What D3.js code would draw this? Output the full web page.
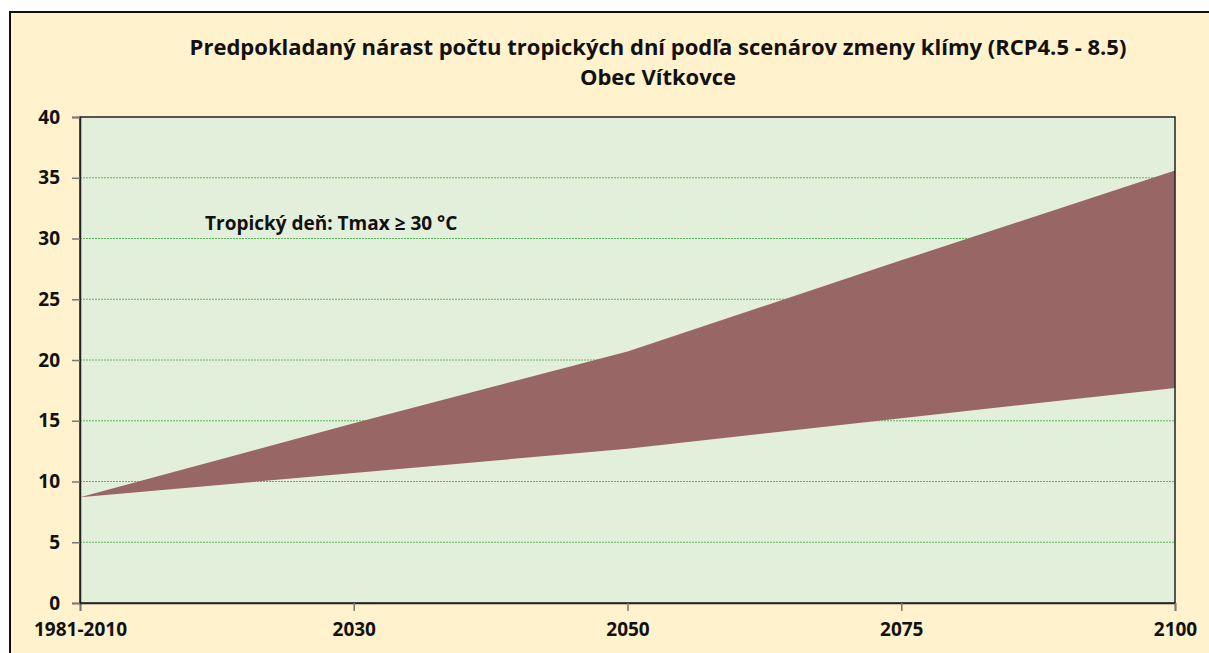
<!DOCTYPE html>
<html lang="sk">
<head>
<meta charset="UTF-8">
<title>Tropické dni</title>
<script src="https://d3js.org/d3.v7.min.js"></script>
<style>
  body { margin: 0; background: #fff; }
  svg { display: block; font-family: "Open Sans", "Noto Sans", sans-serif; }
</style>
</head>
<body>
<div id="chart"></div>
<script>
// Obdobia (kategórie osi X)
const obdobia = ["1981-2010", "2030", "2050", "2075", "2100"];
// Dolná a horná hranica scenárov (RCP4.5 - RCP8.5)
const dolna = [8.7, 10.7, 12.7, 15.2, 17.7];
const horna = [8.7, 14.8, 20.7, 28.2, 35.6];
const yTicks = [0, 5, 10, 15, 20, 25, 30, 35, 40];

const W = 1209, H = 653;
const margin = { top: 117, right: 34, bottom: 50, left: 80 };
const width = W - margin.left - margin.right;
const height = H - margin.top - margin.bottom;
const font = '"Open Sans", "Noto Sans", sans-serif';

const svg = d3.select("#chart")
  .append("svg")
  .attr("width", W)
  .attr("height", H);

// pozadie grafu
svg.append("rect")
  .attr("x", 10).attr("y", 12)
  .attr("width", W).attr("height", H)
  .attr("fill", "#fff2cc")
  .attr("stroke", "#111")
  .attr("stroke-width", 2);

const g = svg.append("g")
  .attr("transform", `translate(${margin.left}, ${margin.top})`);

const x = d3.scalePoint().domain(obdobia).range([0, width]);
const y = d3.scaleLinear().domain([0, 40]).range([height, 0]);

g.append("rect")
  .attr("width", width).attr("height", height)
  .attr("fill", "#e2efda");

// mriežka
g.selectAll(".grid")
  .data(yTicks.filter(d => d > 0 && d < 40))
  .enter().append("line")
  .attr("class", "grid")
  .attr("x1", 0).attr("x2", width)
  .attr("y1", d => y(d)).attr("y2", d => y(d))
  .attr("stroke", "#5cb85c")
  .attr("stroke-width", 1)
  .attr("stroke-dasharray", "2,1");

// plocha medzi scenármi
const area = d3.area()
  .x((d, i) => x(obdobia[i]))
  .y0((d, i) => y(dolna[i]))
  .y1(d => y(d));

g.append("path")
  .datum(horna)
  .attr("d", area)
  .attr("fill", "#996666");

// rámik plochy
g.append("rect")
  .attr("width", width).attr("height", height)
  .attr("fill", "none")
  .attr("stroke", "#222")
  .attr("stroke-width", 1.5);

const xAxis = g.append("g")
  .attr("transform", `translate(0, ${height})`)
  .call(d3.axisBottom(x).tickSize(8).tickPadding(12));

const yAxis = g.append("g")
  .call(d3.axisLeft(y).tickValues(yTicks).tickSize(8).tickPadding(12));

[xAxis, yAxis].forEach(a => {
  a.attr("font-family", font).attr("font-size", 19);
  a.selectAll("text").attr("font-weight", "bold").attr("fill", "#111");
  a.select(".domain").attr("stroke", "#222").attr("stroke-width", 1.5);
  a.selectAll(".tick line").attr("stroke", "#777").attr("stroke-width", 1.5);
});

// nadpis
const title = svg.append("text")
  .attr("text-anchor", "middle")
  .attr("font-weight", "bold")
  .attr("font-size", 22)
  .attr("fill", "#111");
title.append("tspan").attr("x", 658).attr("y", 55)
  .text("Predpokladaný nárast počtu tropických dní podľa scenárov zmeny klímy (RCP4.5 - 8.5)");
title.append("tspan").attr("x", 658).attr("y", 85)
  .text("Obec Vítkovce");

g.append("text")
  .attr("x", 125)
  .attr("y", y(30.7))
  .attr("font-weight", "bold")
  .attr("font-size", 19)
  .attr("fill", "#111")
  .text("Tropický deň: Tmax ≥ 30 °C");
</script>
</body>
</html>
